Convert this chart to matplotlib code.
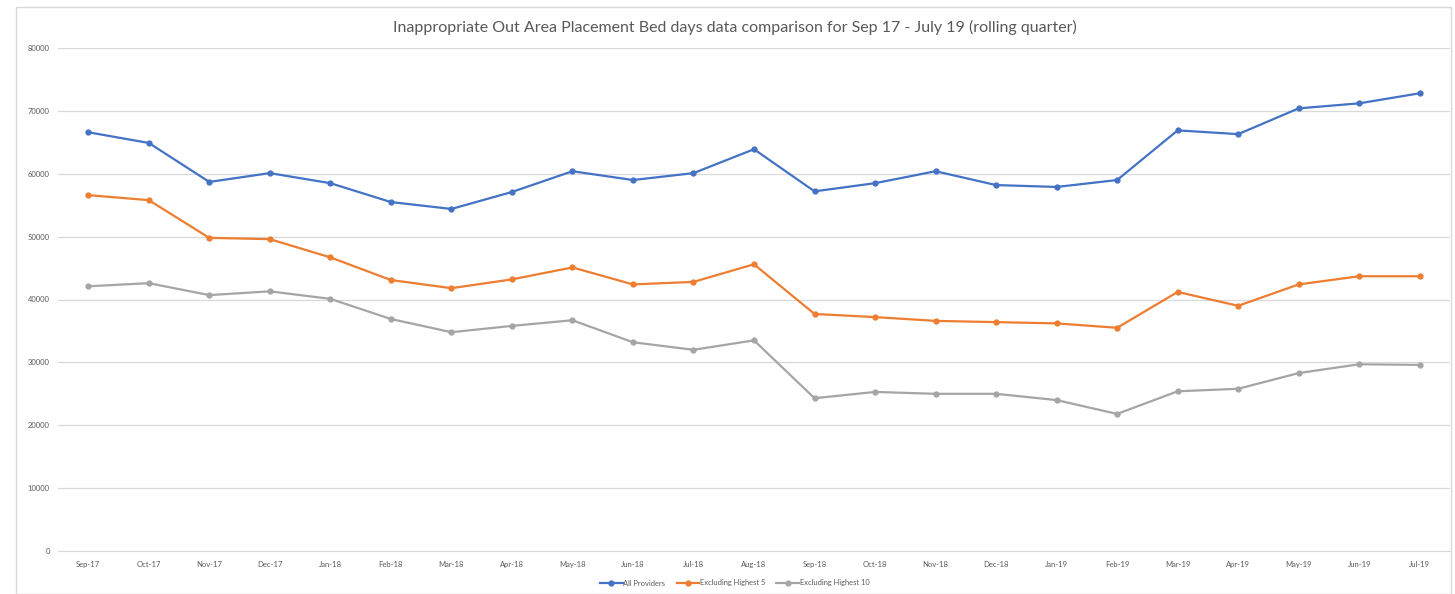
"""Out area placement bed days, rolling quarter comparison."""
import matplotlib
matplotlib.use("Agg")
import matplotlib.pyplot as plt
from matplotlib.patches import Rectangle

months = ["Sep-17", "Oct-17", "Nov-17", "Dec-17", "Jan-18", "Feb-18", "Mar-18",
          "Apr-18", "May-18", "Jun-18", "Jul-18", "Aug-18", "Sep-18", "Oct-18",
          "Nov-18", "Dec-18", "Jan-19", "Feb-19", "Mar-19", "Apr-19", "May-19",
          "Jun-19", "Jul-19"]

all_providers = [66600, 64900, 58700, 60100, 58500, 55500, 54400, 57100, 60400,
                 59000, 60100, 63900, 57200, 58500, 60400, 58200, 57900, 59000,
                 66900, 66300, 70400, 71200, 72800]
excl_top5 = [56600, 55800, 49800, 49600, 46700, 43100, 41800, 43200, 45100,
             42400, 42800, 45600, 37700, 37200, 36600, 36400, 36200, 35500,
             41200, 39000, 42400, 43700, 43700]
excl_top10 = [42100, 42600, 40700, 41300, 40100, 36900, 34800, 35800, 36700,
              33200, 32000, 33500, 24300, 25300, 25000, 25000, 24000, 21800,
              25400, 25800, 28300, 29700, 29600]

series = [("All Providers", all_providers, "#4472C4"),
          ("Excluding Highest 5", excl_top5, "#ED7D31"),
          ("Excluding Highest 10", excl_top10, "#A5A5A5")]

plt.rcParams["font.family"] = ["Lato", "DejaVu Sans"]

fig = plt.figure(figsize=(14.55, 5.94), dpi=100)
# light frame round the chart area
fig.patches.append(Rectangle((16 / 1455, 0), 1435 / 1455, 1 - 7 / 594,
                             transform=fig.transFigure, fill=False,
                             edgecolor="#D9D9D9", linewidth=1))

ax = fig.add_axes([58 / 1455, 1 - 551 / 594, 1392 / 1455, 503 / 594])
x = list(range(len(months)))
for name, vals, col in series:
    ax.plot(x, vals, color=col, linewidth=1.6, marker="o", markersize=3.5,
            label=name)

ax.set_xlim(-0.5, len(months) - 0.5)
ax.set_ylim(0, 80000)
ax.set_yticks(range(0, 80001, 10000))
ax.set_xticks(x)
ax.set_xticklabels(months)
ax.grid(axis="y", color="#D9D9D9", linewidth=0.9)
ax.set_axisbelow(True)
for s in ["top", "right", "left"]:
    ax.spines[s].set_visible(False)
ax.spines["bottom"].set_color("#D9D9D9")
ax.tick_params(axis="both", length=0, labelsize=5.5, labelcolor="#595959")
ax.tick_params(axis="x", pad=7)
ax.tick_params(axis="y", pad=6)

fig.text(0.505, 1 - 27 / 594,
         "Inappropriate Out Area Placement Bed days data comparison for Sep 17 - July 19 (rolling quarter)",
         ha="center", va="center", fontsize=11.5, color="#595959")

fig.legend(loc="center", bbox_to_anchor=(0.505, 1 - 583 / 594), ncol=3,
           frameon=False, fontsize=5.4, labelcolor="#595959",
           handlelength=3.0, handletextpad=0.1, columnspacing=1.5)

fig.savefig("out.png", dpi=100)
